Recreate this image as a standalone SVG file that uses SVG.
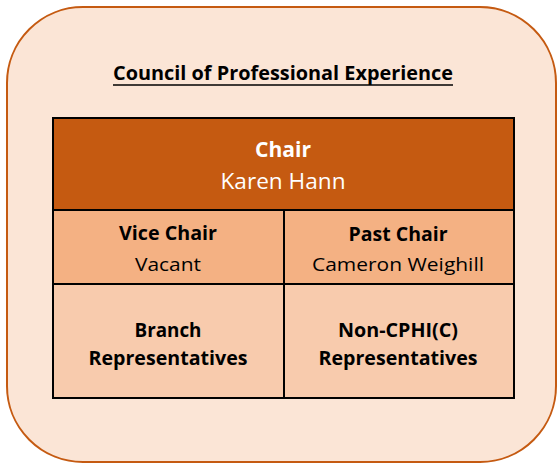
<svg xmlns="http://www.w3.org/2000/svg" width="558" height="465" viewBox="0 0 558 465">
<style>
.t{font-family:"Open Sans","Liberation Sans",sans-serif;text-anchor:middle;fill:#000}
.b{font-weight:bold}
.w{fill:#fff}
.cell{stroke:#000;stroke-width:2}
</style>
<g id="council">
<rect x="7" y="7" width="549" height="455" rx="76" ry="76" fill="#FBE5D6" stroke="#C55A11" stroke-width="2"/>
<text class="t b" x="283" y="80" font-size="19" textLength="340" lengthAdjust="spacingAndGlyphs">Council of Professional Experience</text>
<line x1="113" y1="85" x2="453" y2="85" stroke="#000" stroke-width="1.5"/>
</g>
<g id="chair">
<rect class="cell" x="53" y="118" width="461" height="92" fill="#C55A11"/>
<text class="t b w" x="283" y="157" font-size="21" textLength="56" lengthAdjust="spacingAndGlyphs">Chair</text>
<text class="t w" x="283" y="189" font-size="21" textLength="125" lengthAdjust="spacingAndGlyphs">Karen Hann</text>
</g>
<g id="vice-chair">
<rect class="cell" x="53" y="210" width="231" height="74" fill="#F4B183"/>
<text class="t b" x="168" y="240" font-size="19" textLength="98" lengthAdjust="spacingAndGlyphs">Vice Chair</text>
<text class="t" x="168" y="270.5" font-size="19" textLength="66" lengthAdjust="spacingAndGlyphs">Vacant</text>
</g>
<g id="past-chair">
<rect class="cell" x="284" y="210" width="230" height="74" fill="#F4B183"/>
<text class="t b" x="398" y="240.5" font-size="19" textLength="99" lengthAdjust="spacingAndGlyphs">Past Chair</text>
<text class="t" x="398" y="270.5" font-size="19" textLength="172" lengthAdjust="spacingAndGlyphs">Cameron Weighill</text>
</g>
<g id="branch">
<rect class="cell" x="53" y="284" width="231" height="114" fill="#F8CBAD"/>
<text class="t b" x="168" y="336.5" font-size="19" textLength="67" lengthAdjust="spacingAndGlyphs">Branch</text>
<text class="t b" x="168" y="365" font-size="19" textLength="159" lengthAdjust="spacingAndGlyphs">Representatives</text>
</g>
<g id="non-cphi">
<rect class="cell" x="284" y="284" width="230" height="114" fill="#F8CBAD"/>
<text class="t b" x="398" y="336.5" font-size="19" textLength="120" lengthAdjust="spacingAndGlyphs">Non-CPHI(C)</text>
<text class="t b" x="398" y="365" font-size="19" textLength="159" lengthAdjust="spacingAndGlyphs">Representatives</text>
</g>
<g id="connectors"></g>
</svg>
